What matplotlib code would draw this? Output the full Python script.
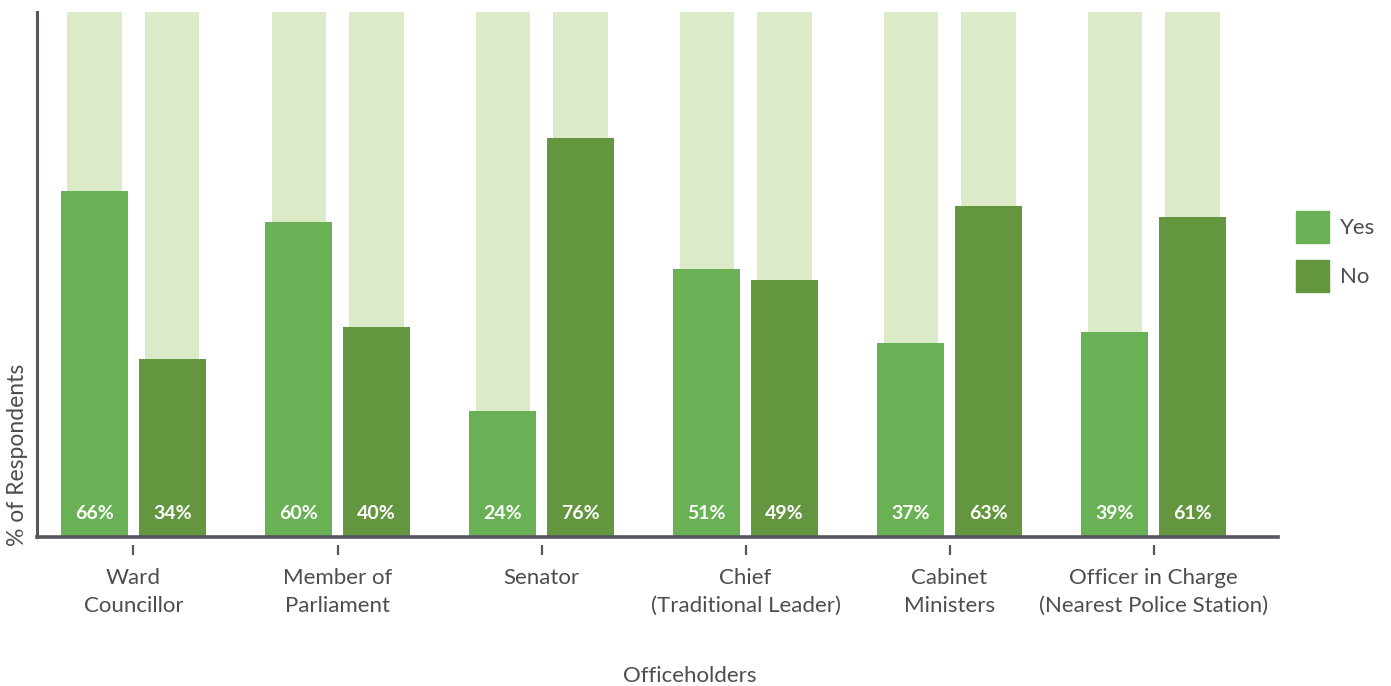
import numpy as np
import matplotlib.pyplot as plt
from matplotlib.patches import Patch

plt.rcParams['font.family'] = ['Lato', 'DejaVu Sans']

officeholders = ['Ward\nCouncillor', 'Member of\nParliament', 'Senator',
                 'Chief\n(Traditional Leader)', 'Cabinet\nMinisters',
                 'Officer in Charge\n(Nearest Police Station)']
yes_pct = [66, 60, 24, 51, 37, 39]
no_pct = [34, 40, 76, 49, 63, 61]

c_yes = '#6ab155'
c_no = '#64963f'
c_back = '#dbebc8'
c_axis = '#55575c'
c_text = '#4a4d52'

fig = plt.figure(figsize=(13.91, 6.86), dpi=100)
ax = fig.add_axes([37/1391, 149/686, (1278-37)/1391, (537-12)/686])

x = np.arange(len(officeholders))
off = 0.191
w = 0.328
wb = 0.265

# full-height pale columns behind each bar
ax.bar(x - off, [100]*len(x), wb, color=c_back, zorder=1)
ax.bar(x + off, [100]*len(x), wb, color=c_back, zorder=1)
ax.bar(x - off, yes_pct, w, color=c_yes, zorder=2)
ax.bar(x + off, no_pct, w, color=c_no, zorder=2)

for xi, v in zip(x, yes_pct):
    ax.text(xi - off, 4.4, f'{v}%', ha='center', va='center', color='white',
            fontsize=14, fontweight='bold', zorder=3)
for xi, v in zip(x, no_pct):
    ax.text(xi + off, 4.4, f'{v}%', ha='center', va='center', color='white',
            fontsize=14, fontweight='bold', zorder=3)

ax.set_xlim(-0.473, 5.61)
ax.set_ylim(0, 100)
ax.set_yticks([])

for s in ['top', 'right']:
    ax.spines[s].set_visible(False)
ax.spines['left'].set_color(c_axis)
ax.spines['left'].set_linewidth(2.2)
# move ticks off the baseline, draw the baseline separately
ax.spines['bottom'].set_position(('outward', 6))
ax.spines['bottom'].set_visible(False)
ax.axhline(0, color=c_axis, linewidth=2.6, zorder=4, clip_on=False)

ax.set_xticks(x)
ax.set_xticklabels(officeholders, fontsize=16, color=c_text, linespacing=1.55)
ax.tick_params(axis='x', length=7.5, width=1.6, color=c_axis, pad=8.5)

fig.text(18/1391, 1 - 455/686, '% of Respondents', rotation=90, ha='center',
         va='center', fontsize=16.5, color=c_text)
fig.text(690/1391, 1 - 676/686, 'Officeholders', ha='center', va='center',
         fontsize=16, color=c_text)

handles = [Patch(color=c_yes, label='Yes'), Patch(color=c_no, label='No')]
fig.legend(handles=handles, loc='upper left', bbox_to_anchor=(1276/1391, 1 - 191/686),
           frameon=False, fontsize=16, labelcolor=c_text, handlelength=1.5,
           handleheight=1.85, handletextpad=0.5, labelspacing=0.75)

fig.savefig('out.png', dpi=100)
